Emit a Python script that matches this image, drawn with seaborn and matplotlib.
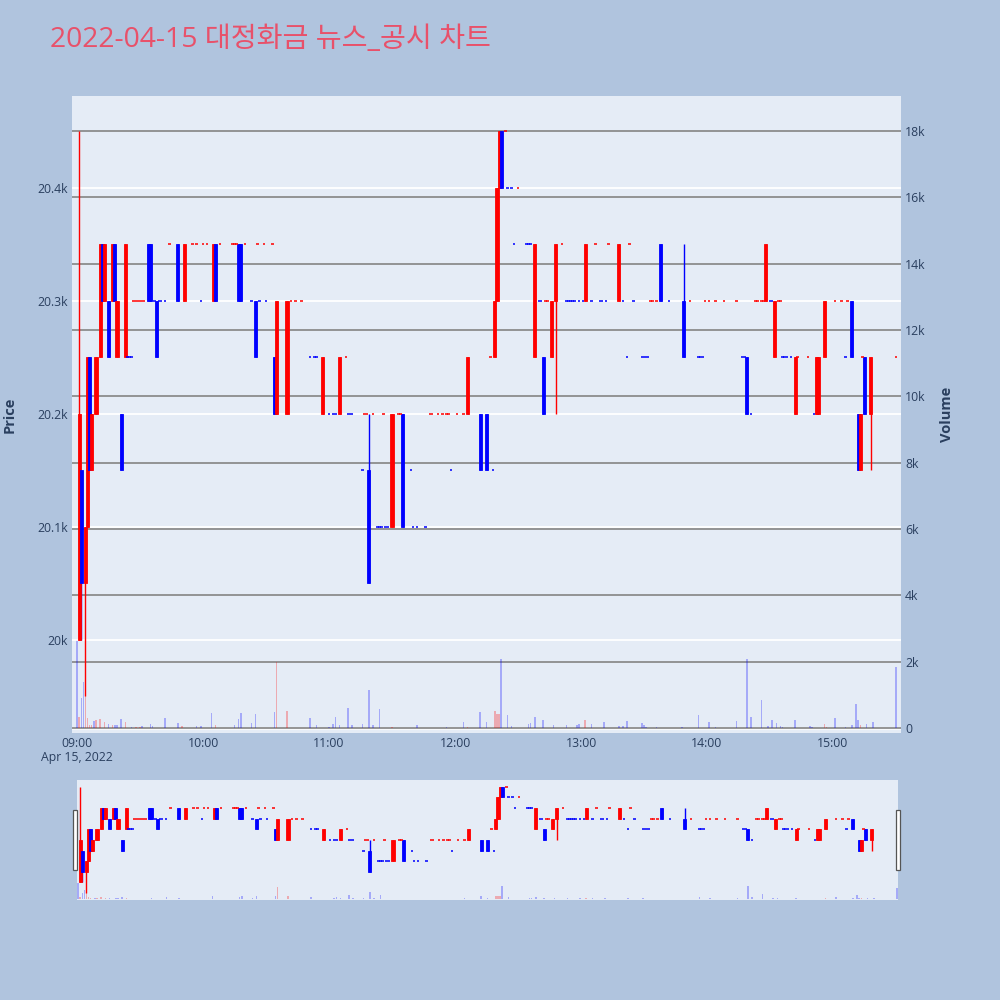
import matplotlib
matplotlib.use("Agg")
import matplotlib.pyplot as plt
import matplotlib.patches as mpatches
import seaborn as sns

# ---- chart values -------------------------------------------------------
TITLE = "2022-04-15 대정화금 뉴스_공시 차트"
DATE_LABEL = "Apr 15, 2022"
TIME_TICK_MIN = [0, 60, 120, 180, 240, 300, 360]
TIME_TICK_LABELS = ["09:00", "10:00", "11:00", "12:00", "13:00", "14:00", "15:00"]
PRICE_TICKS = [20000, 20100, 20200, 20300, 20400]
PRICE_TICK_LABELS = ["20k", "20.1k", "20.2k", "20.3k", "20.4k"]
VOL_TICKS = [0, 2000, 4000, 6000, 8000, 10000, 12000, 14000, 16000, 18000]
VOL_TICK_LABELS = ["0", "2k", "4k", "6k", "8k", "10k", "12k", "14k", "16k", "18k"]

# candles with a body (minute after 09:00)
cd_min = [1, 2, 4, 5, 6, 7, 9, 11, 12, 13, 15, 17, 18, 19, 21, 23, 34, 35, 38,
          48, 51, 65, 66, 77, 78, 85, 94, 95, 100, 117, 125, 139, 150, 155,
          186, 192, 195, 199, 200, 201, 202, 218, 222, 226, 228, 242, 258,
          278, 289, 319, 328, 332, 342, 352, 353, 356, 369, 372, 373, 375, 378]
cd_open = [20000, 20150, 20050, 20100, 20250, 20150, 20200, 20250, 20350, 20300,
           20300, 20300, 20350, 20250, 20200, 20250, 20350, 20350, 20300,
           20350, 20300, 20300, 20350, 20350, 20350, 20300, 20250, 20200,
           20200, 20200, 20200, 20150, 20100, 20200,
           20200, 20200, 20200, 20250, 20300, 20400, 20450, 20250, 20250,
           20250, 20300, 20300, 20300,
           20350, 20300, 20250, 20300, 20250, 20200, 20200, 20200, 20250,
           20300, 20200, 20150, 20250, 20200]
cd_close = [20200, 20050, 20100, 20250, 20150, 20200, 20250, 20350, 20300, 20350,
            20250, 20350, 20300, 20300, 20150, 20350, 20300, 20300, 20250,
            20300, 20350, 20350, 20300, 20300, 20300, 20250, 20200, 20300,
            20300, 20250, 20250, 20050, 20200, 20100,
            20250, 20150, 20150, 20300, 20400, 20450, 20400, 20350, 20200,
            20300, 20350, 20350, 20350,
            20300, 20250, 20200, 20350, 20300, 20250, 20250, 20250, 20300,
            20250, 20150, 20200, 20200, 20250]
cd_high = [20450, 20150, 20100, 20250, 20250, 20200, 20250, 20350, 20350, 20350,
           20300, 20350, 20350, 20300, 20200, 20350, 20350, 20350, 20300,
           20350, 20350, 20350, 20350, 20350, 20350, 20300, 20250, 20300,
           20300, 20250, 20250, 20200, 20200, 20200,
           20250, 20200, 20200, 20300, 20400, 20450, 20450, 20350, 20250,
           20300, 20350, 20350, 20350,
           20350, 20350, 20250, 20350, 20300, 20250, 20250, 20250, 20300,
           20300, 20200, 20200, 20250, 20250]
cd_low = [20000, 20000, 19950, 20100, 20150, 20150, 20200, 20250, 20300, 20300,
          20250, 20300, 20300, 20250, 20150, 20250, 20300, 20300, 20250,
          20300, 20300, 20300, 20300, 20300, 20300, 20250, 20200, 20200,
          20200, 20200, 20200, 20050, 20100, 20100,
          20200, 20150, 20150, 20250, 20300, 20400, 20400, 20250, 20200,
          20250, 20200, 20300, 20300,
          20300, 20250, 20200, 20300, 20250, 20200, 20200, 20200, 20250,
          20250, 20150, 20150, 20200, 20150]

# single-price minutes (open == close), 1 = red, 0 = blue
doji_min = [24, 25, 26, 27, 28, 29, 30, 31, 32, 37, 39, 40, 42, 44, 55, 57, 59,
            60, 62, 68, 74, 75, 76, 80, 83, 86, 87, 89, 90, 93, 102, 104, 107,
            111, 113, 114, 120, 122, 123, 128, 129, 130, 131, 136, 137, 138,
            141, 143, 144, 145, 146, 147, 148, 153, 154, 159, 160, 162, 166,
            168, 169, 172, 174, 176, 177, 178, 181, 184, 197, 198, 204, 205,
            207, 208, 210, 214, 215, 216, 220, 221, 223, 224, 231, 233, 234,
            235, 236, 237, 239, 241, 245, 247, 249, 250, 252, 253, 260, 262,
            263, 265, 269, 270, 271, 272, 273, 274, 276, 282, 292, 296, 297,
            298, 299, 301, 304, 308, 314, 317, 318, 321, 323, 324, 326, 327,
            330, 331, 334, 335, 336, 337, 338, 340, 343, 348, 351, 361, 364,
            366, 367, 374, 390]
doji_price = [20250, 20250, 20250, 20300, 20300, 20300, 20300, 20300, 20300,
              20300, 20300, 20300, 20300, 20350, 20350, 20350, 20300, 20350,
              20350, 20350, 20350, 20350, 20350, 20350, 20300, 20350, 20300,
              20350, 20300, 20350, 20300, 20300, 20300, 20250, 20250, 20250,
              20200, 20200, 20200, 20250, 20200, 20200, 20200, 20150, 20200,
              20200, 20200, 20100, 20100, 20100, 20200, 20100, 20100, 20200,
              20200, 20150, 20100, 20100, 20100, 20200, 20200, 20200, 20200,
              20200, 20200, 20150, 20200, 20200, 20250, 20150, 20450, 20400,
              20400, 20350, 20400, 20350, 20350, 20350, 20300, 20300, 20300,
              20300, 20350, 20300, 20300, 20300, 20300, 20300, 20300, 20300,
              20300, 20350, 20300, 20300, 20300, 20350, 20300, 20250, 20350,
              20300, 20250, 20250, 20250, 20250, 20300, 20300, 20300, 20300,
              20300, 20250, 20250, 20250, 20300, 20300, 20300, 20300, 20300,
              20250, 20250, 20200, 20300, 20300, 20300, 20300, 20300, 20300,
              20300, 20300, 20250, 20250, 20250, 20250, 20250, 20250, 20200,
              20300, 20300, 20250, 20300, 20250, 20250]
doji_up = [0, 0, 0, 1, 1, 1, 1, 1, 1, 0, 0, 0, 0, 1, 1, 1, 0, 1, 1, 1, 1, 1, 1,
           1, 0, 1, 0, 1, 0, 1, 1, 1, 1, 0, 0, 0, 0, 0, 0, 1, 0, 0, 0, 0, 1, 1,
           1, 0, 0, 0, 1, 0, 0, 1, 1, 0, 0, 0, 0, 1, 1, 1, 1, 1, 1, 0, 1, 1, 1,
           0, 1, 0, 0, 0, 1, 0, 0, 0, 0, 0, 1, 1, 1, 0, 0, 0, 0, 0, 0, 0, 0, 1,
           0, 0, 0, 1, 0, 0, 1, 0, 0, 0, 0, 0, 1, 1, 1, 0, 1, 0, 0, 0, 1, 1, 1,
           1, 1, 0, 0, 0, 1, 1, 1, 1, 0, 0, 1, 1, 0, 0, 0, 0, 1, 1, 0, 1, 1, 0,
           1, 1, 1]

# volume per minute, 1 = red, 0 = blue
vol_min = [0, 1, 2, 3, 4, 5, 6, 7, 8, 9, 11, 13, 15, 17, 18, 19, 21, 23, 26, 28,
           30, 31, 35, 36, 42, 48, 50, 57, 59, 64, 66, 75, 77, 78, 83, 85, 94,
           95, 100, 111, 114, 120, 122, 123, 125, 129, 131, 136, 139, 141, 144,
           150, 162, 176, 184, 186, 192, 195, 199, 200, 201, 202, 205, 207, 215,
           216, 218, 222, 227, 233, 238, 239, 242, 245, 251, 258, 260, 262, 269,
           270, 271, 276, 288, 296, 301, 304, 314, 319, 321, 326, 329, 331, 333,
           335, 336, 342, 349, 350, 356, 357, 361, 366, 369, 371, 372, 373, 376,
           379, 390]
vol_val = [2650, 330, 900, 1400, 1750, 300, 100, 80, 200, 250, 270, 170, 130, 80,
           100, 100, 270, 190, 30, 40, 30, 50, 120, 50, 290, 150, 70, 50, 50,
           450, 80, 90, 270, 450, 150, 420, 470, 2000, 520, 310, 80, 40, 120,
           320, 100, 600, 100, 130, 1150, 100, 580, 30, 80, 40, 190, 30, 480,
           180, 500, 430, 430, 2080, 400, 70, 120, 150, 320, 230, 100, 100, 80,
           120, 230, 120, 180, 70, 50, 200, 150, 80, 30, 30, 30, 400, 190, 40,
           200, 2080, 330, 830, 70, 230, 150, 70, 30, 230, 50, 30, 120, 30, 300,
           30, 100, 720, 250, 100, 120, 170, 1850]
vol_up = [0, 1, 0, 0, 1, 1, 1, 1, 0, 1, 1, 1, 0, 1, 0, 0, 0, 1, 0, 1, 1, 0, 0,
          0, 0, 0, 1, 0, 0, 0, 1, 0, 0, 0, 0, 0, 0, 1, 1, 0, 0, 0, 0, 0, 0, 0,
          0, 0, 0, 0, 0, 1, 0, 0, 0, 1, 0, 0, 1, 1, 1, 0, 0, 0, 0, 0, 0, 0, 0,
          0, 0, 0, 1, 0, 0, 0, 0, 0, 0, 0, 0, 0, 0, 0, 0, 0, 0, 0, 0, 0, 0, 0,
          0, 0, 0, 0, 0, 0, 1, 1, 0, 0, 0, 0, 0, 1, 0, 0, 0]

RED = "#ff0000"
BLUE = "#0000ff"
TXT = "#2a3f5f"
PLOT_BG = "#e5ecf6"
PAPER_BG = "#b0c4de"
PRICE_RANGE = (19917.7, 20481.4)
VOL_RANGE = (-150, 19050)


def draw(axp, axv):
    vcol = [RED if u else BLUE for u in vol_up]
    axv.bar(vol_min, vol_val, width=0.7, color=vcol, alpha=0.28, linewidth=0)

    up = [c > o for o, c in zip(cd_open, cd_close)]
    ccol = [RED if u else BLUE for u in up]
    axp.vlines(cd_min, cd_low, cd_high, colors=ccol, linewidth=1.0, zorder=3)
    bottoms = [min(o, c) for o, c in zip(cd_open, cd_close)]
    heights = [abs(c - o) for o, c in zip(cd_open, cd_close)]
    axp.bar(cd_min, heights, bottom=bottoms, width=1.5, color=ccol,
            edgecolor=ccol, linewidth=0.6, zorder=4)

    dcol = [RED if u else BLUE for u in doji_up]
    axp.hlines(doji_price, [m - 0.6 for m in doji_min], [m + 0.6 for m in doji_min],
               colors=dcol, linewidth=1.3, alpha=0.85, zorder=4)


def layer(axp, axv):
    # price marks above the volume axis, volume axis carries the plot background
    axp.set_zorder(2)
    axv.set_zorder(1)
    axp.patch.set_visible(False)
    axv.patch.set_visible(True)
    axv.patch.set_facecolor(PLOT_BG)


sns.set_theme(style="white")
plt.rcParams["font.family"] = ["Open Sans", "Noto Sans CJK KR", "DejaVu Sans"]
plt.rcParams["axes.unicode_minus"] = False

fig = plt.figure(figsize=(10, 10), dpi=100, facecolor=PAPER_BG)

# main chart
ax = fig.add_axes([0.072, 0.267, 0.829, 0.637])
axv = ax.twinx()
layer(ax, axv)
draw(ax, axv)

ax.set_xlim(-2.4, 392.4)
ax.set_ylim(*PRICE_RANGE)
axv.set_ylim(*VOL_RANGE)

ax.set_yticks(PRICE_TICKS)
ax.set_yticklabels(PRICE_TICK_LABELS)
axv.set_yticks(VOL_TICKS)
axv.set_yticklabels(VOL_TICK_LABELS)
ax.set_xticks(TIME_TICK_MIN)
ax.set_xticklabels(TIME_TICK_LABELS)

for a in (ax, axv):
    for s in a.spines.values():
        s.set_visible(False)
ax.tick_params(axis="both", length=0, labelsize=8.8, colors=TXT, pad=3)
axv.tick_params(axis="y", length=0, labelsize=8.8, colors=TXT, pad=3)
ax.xaxis.grid(False)
ax.yaxis.grid(True, color="white", linewidth=1.3)
ax.set_axisbelow(True)
axv.yaxis.grid(True, color="#8c8c8c", linewidth=1.3)
axv.axhline(0, color="white", linewidth=1.8, zorder=0.5)

ax.set_ylabel("Price", fontsize=10.5, color=TXT, fontweight="bold")
axv.set_ylabel("Volume", fontsize=10.5, color=TXT, fontweight="bold")
ax.yaxis.set_label_coords(-0.0665, 0.5)
axv.yaxis.set_label_coords(1.047, 0.5)

fig.text(0.077, 0.2425, DATE_LABEL, ha="center", va="center", fontsize=8.8, color=TXT)

# range slider
sp = fig.add_axes([0.077, 0.100, 0.821, 0.120])
sv = sp.twinx()
layer(sp, sv)
draw(sp, sv)
sp.set_xlim(-0.5, 390.5)
sp.set_ylim(*PRICE_RANGE)
sv.set_ylim(*VOL_RANGE)
for a in (sp, sv):
    a.set_xticks([])
    a.set_yticks([])
    a.grid(False)
    for s in a.spines.values():
        s.set_visible(False)

for hx in (0.073, 0.896):
    handle = mpatches.Rectangle((hx, 0.130), 0.004, 0.060, transform=fig.transFigure,
                                facecolor="white", edgecolor="#555555", linewidth=0.9,
                                zorder=10)
    fig.add_artist(handle)

fig.text(0.05, 0.96, TITLE, ha="left", va="center", fontsize=20.3, color="#e8516a",
         family=["Open Sans", "Noto Sans CJK KR", "DejaVu Sans"])

fig.savefig("out.png", dpi=100, facecolor=PAPER_BG)
plt.close(fig)
